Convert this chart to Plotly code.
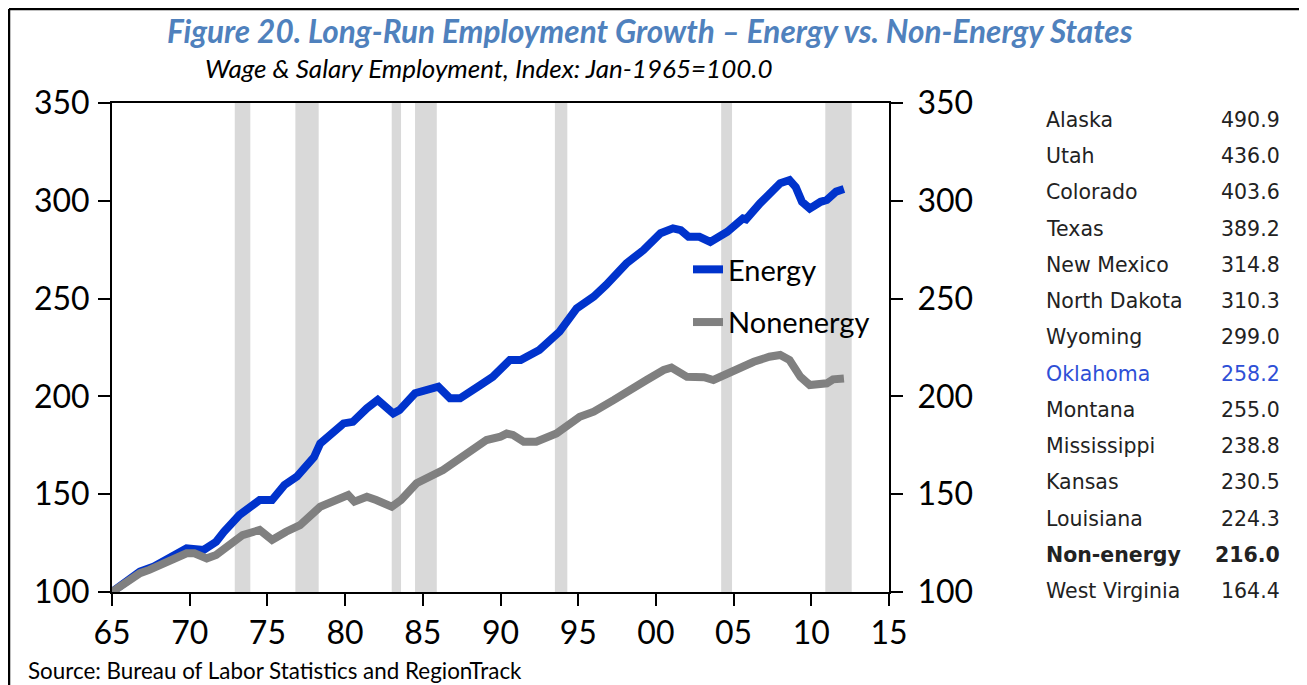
import plotly.graph_objects as go

# ---------------- data ----------------
energy_x = [1965.0, 1966.8, 1967.7, 1968.5, 1969.8, 1970.9, 1971.7, 1972.2, 1973.2, 1974.5,
            1975.3, 1976.1, 1976.9, 1978.0, 1978.4, 1979.9, 1980.5, 1981.4, 1982.1, 1983.1,
            1983.5, 1984.5, 1986.0, 1986.75, 1987.4, 1988.7, 1989.5, 1990.6, 1991.3, 1992.5,
            1993.8, 1994.9, 1996.0, 1996.8, 1998.1, 1999.2, 2000.3, 2001.1, 2001.6, 2002.1,
            2002.8, 2003.5, 2004.6, 2005.6, 2005.8, 2006.7, 2008.0, 2008.6, 2009.0, 2009.4,
            2009.9, 2010.6, 2011.0, 2011.6, 2012.1]
energy_y = [100.0, 110.4, 113.0, 116.4, 122.3, 121.5, 125.7, 130.8, 139.4, 147.0,
            147.0, 154.7, 159.0, 169.0, 176.0, 186.2, 187.0, 193.9, 198.2, 191.3,
            193.0, 201.6, 205.0, 199.0, 199.0, 205.8, 210.0, 218.6, 218.6, 223.7,
            233.1, 245.0, 251.0, 257.0, 268.0, 274.8, 283.4, 285.9, 285.0, 281.6,
            281.6, 279.0, 284.2, 291.0, 290.5, 298.7, 309.0, 310.6, 307.0, 299.5,
            296.0, 299.5, 300.4, 304.7, 306.0]

nonenergy_x = [1965.0, 1966.8, 1967.4, 1968.7, 1969.8, 1970.3, 1971.1, 1971.7, 1972.6, 1973.4,
               1974.5, 1975.3, 1976.2, 1977.1, 1978.4, 1979.7, 1980.2, 1980.6, 1981.4, 1982.0,
               1983.0, 1983.6, 1984.6, 1986.3, 1987.8, 1989.1, 1990.0, 1990.4, 1990.8, 1991.5,
               1992.3, 1993.6, 1995.1, 1996.0, 1997.3, 1998.1, 1999.4, 2000.5, 2001.0, 2002.0,
               2003.1, 2003.7, 2005.0, 2006.3, 2007.3, 2008.0, 2008.6, 2009.3, 2009.9, 2010.6,
               2011.0, 2011.4, 2012.1]
nonenergy_y = [100.0, 109.6, 111.3, 115.5, 119.8, 119.8, 117.2, 118.9, 124.0, 129.1,
               131.7, 126.6, 130.8, 134.2, 143.6, 148.7, 149.6, 146.2, 148.7, 147.0,
               143.6, 147.0, 155.6, 162.4, 170.9, 177.7, 179.4, 181.0, 180.3, 176.8,
               176.8, 181.0, 189.6, 192.2, 198.2, 202.4, 208.4, 213.5, 214.7, 210.0,
               209.8, 208.4, 213.5, 217.7, 220.3, 221.2, 218.6, 210.0, 205.8, 206.7,
               206.7, 208.7, 209.2]

shade_start = [1972.9, 1976.8, 1983.0, 1984.5, 1993.5, 2004.2, 2010.9]
shade_end = [1973.9, 1978.3, 1983.6, 1985.9, 1994.3, 2004.9, 2012.6]

tick_vals = [1965, 1970, 1975, 1980, 1985, 1990, 1995, 2000, 2005, 2010, 2015]
tick_text = ["65", "70", "75", "80", "85", "90", "95", "00", "05", "10", "15"]
y_ticks = [100, 150, 200, 250, 300, 350]

table_states = ["Alaska", "Utah", "Colorado", "Texas", "New Mexico", "North Dakota", "Wyoming",
                "Oklahoma", "Montana", "Mississippi", "Kansas", "Louisiana", "Non-energy",
                "West Virginia"]
table_values = ["490.9", "436.0", "403.6", "389.2", "314.8", "310.3", "299.0",
                "258.2", "255.0", "238.8", "230.5", "224.3", "216.0", "164.4"]

# ---------------- layout constants ----------------
OFF = 8  # the page places the figure 8px from the window's top-left corner
W, H = 1307 - OFF, 685 - OFF
PLOT_L, PLOT_R, PLOT_T, PLOT_B = 112, 889, 103, 592  # in window pixels
L = PLOT_L - OFF
R = 1307 - PLOT_R
T = PLOT_T - OFF
B = 685 - PLOT_B
PW = PLOT_R - PLOT_L
PH = PLOT_B - PLOT_T


def px_x(px):
    return (px - PLOT_L) / PW


def px_y(py):
    return (PLOT_B - py) / PH


BASE_FONT = "Lato, 'Open Sans', sans-serif"
TABLE_FONT = "'DejaVu Sans', Verdana, sans-serif"

fig = go.Figure()

fig.add_trace(go.Scatter(x=energy_x, y=energy_y, mode="lines", name="Energy",
                         legendgroup="e",
                         line=dict(color="#0033CC", width=8)))
fig.add_trace(go.Scatter(x=nonenergy_x, y=nonenergy_y, mode="lines", name="Nonenergy",
                         legendgroup="n",
                         line=dict(color="#808080", width=8)))
# invisible trace to activate the right-hand axis
fig.add_trace(go.Scatter(x=[energy_x[0]], y=[energy_y[0]], yaxis="y2", mode="lines",
                         showlegend=False, hoverinfo="skip", line=dict(width=0)))

shapes = []
for s, e in zip(shade_start, shade_end):
    shapes.append(dict(type="rect", xref="x", yref="paper", x0=s, x1=e, y0=0, y1=1,
                       fillcolor="#D9D9D9", line=dict(width=0), layer="below"))
# outer frame (top and left edges)
shapes.append(dict(type="line", xref="paper", yref="paper", x0=px_x(9), x1=px_x(1307),
                   y0=px_y(9), y1=px_y(9), line=dict(color="black", width=2.5)))
shapes.append(dict(type="line", xref="paper", yref="paper", x0=px_x(9), x1=px_x(9),
                   y0=px_y(9), y1=px_y(685), line=dict(color="black", width=2.5)))

annotations = [
    dict(text="<b><i>Figure 20. Long-Run Employment Growth \u2013 Energy vs. Non-Energy States</i></b>",
         xref="paper", yref="paper", x=px_x(650), y=px_y(31), xanchor="center", yanchor="middle",
         showarrow=False, font=dict(family=BASE_FONT, size=31.5, color="#4F81BD")),
    dict(text="<i>Wage &amp; Salary Employment, Index: Jan-1965=100.0</i>",
         xref="paper", yref="paper", x=px_x(203), y=px_y(68), xanchor="left", yanchor="middle",
         showarrow=False, font=dict(family=BASE_FONT, size=26, color="black")),
    dict(text="Source: Bureau of Labor Statistics and RegionTrack",
         xref="paper", yref="paper", x=px_x(26), y=px_y(670), xanchor="left", yanchor="middle",
         showarrow=False, font=dict(family=BASE_FONT, size=22.4, color="black")),
]

row_top, row_bottom = 120, 591
step = (row_bottom - row_top) / (len(table_states) - 1)
for i, (st, val) in enumerate(zip(table_states, table_values)):
    yy = px_y(row_top + i * step)
    color = "#2E4FD6" if st == "Oklahoma" else "#222222"
    if st == "Non-energy":
        st_txt, val_txt = "<b>" + st + "</b>", "<b>" + val + "</b>"
    else:
        st_txt, val_txt = st, val
    annotations.append(dict(text=st_txt, xref="paper", yref="paper", x=px_x(1044), y=yy,
                            xanchor="left", yanchor="middle", showarrow=False,
                            font=dict(family=TABLE_FONT, size=20.5, color=color)))
    annotations.append(dict(text=val_txt, xref="paper", yref="paper", x=px_x(1282), y=yy,
                            xanchor="right", yanchor="middle", showarrow=False,
                            font=dict(family=TABLE_FONT, size=20.5, color=color)))

axis_font = dict(family=BASE_FONT, size=32, color="black")

fig.update_layout(
    width=W, height=H,
    margin=dict(l=L, r=R, t=T, b=B, pad=0),
    paper_bgcolor="white", plot_bgcolor="white",
    showlegend=True,
    legend=dict(x=px_x(688), y=px_y(296), xanchor="left", yanchor="middle",
                bgcolor="rgba(0,0,0,0)", font=dict(family=BASE_FONT, size=29, color="black"),
                tracegroupgap=12, itemwidth=30),
    xaxis=dict(range=[1965, 2015], tickvals=tick_vals, ticktext=tick_text,
               showgrid=False, zeroline=False, showline=True, linecolor="black", linewidth=2,
               mirror=True, ticks="outside", ticklen=12, tickwidth=2, tickcolor="black",
               tickfont=axis_font, fixedrange=True),
    yaxis=dict(range=[100, 350], tickvals=y_ticks, showgrid=False, zeroline=False,
               showline=True, linecolor="black", linewidth=2, ticks="outside", ticklen=12,
               tickwidth=2, tickcolor="black", tickfont=axis_font, ticklabelstandoff=2),
    yaxis2=dict(range=[100, 350], tickvals=y_ticks, overlaying="y", side="right",
                showgrid=False, zeroline=False, showline=True, linecolor="black", linewidth=2,
                ticks="outside", ticklen=12, tickwidth=2, tickcolor="black", tickfont=axis_font,
                ticklabelstandoff=8),
    shapes=shapes,
    annotations=annotations,
)

fig.write_html("out.html")
